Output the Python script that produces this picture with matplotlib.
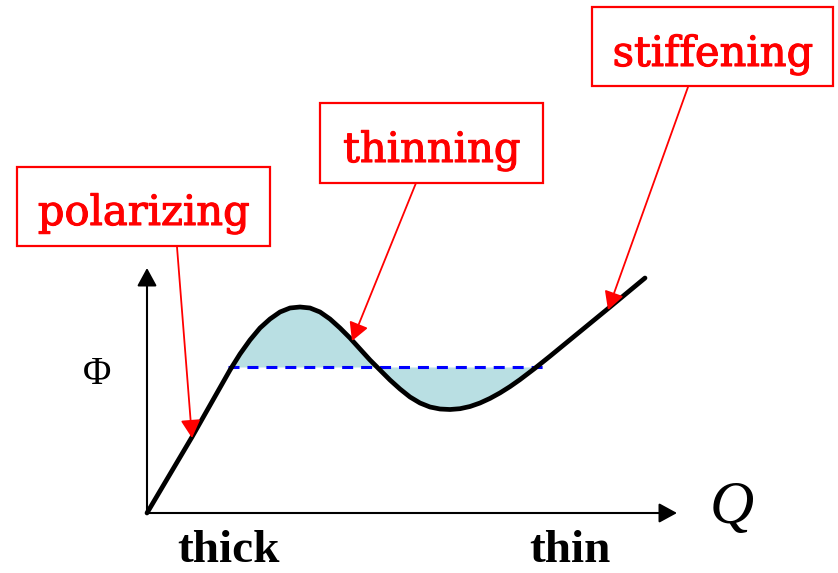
#!/usr/bin/env python3
"""Schematic Phi(Q) curve: polarizing, thinning and stiffening regimes."""

import matplotlib
matplotlib.use("Agg")
import matplotlib.pyplot as plt
import matplotlib.patheffects as pe
import numpy as np
from matplotlib.patches import Rectangle

# curve (Q to the right, Phi upward, origin at axes corner)
curve_q = np.array([0, 45, 83, 93, 103, 113, 123, 133, 143, 153, 163, 173, 183,
                    193, 203, 213, 223, 233, 243, 253, 263, 273, 283, 293, 303,
                    313, 323, 333, 343, 353, 363, 373, 388, 403, 433, 463, 498])
curve_phi = np.array([0, 76, 143, 159, 173, 185, 194, 201, 205, 206, 205, 201, 194,
                      185, 175, 164, 153, 143, 133, 124, 116, 110, 106, 104, 103.5,
                      104.3, 106.5, 110, 114.6, 120.1, 126.4, 133.4, 144.8, 156.8,
                      181.4, 206, 235])

level_phi = 146
level_q = [81, 396]

labels = ["polarizing", "thinning", "stiffening"]
label_baselines = [(-3, 288), (285, 351), (566, 447)]
label_boxes = [(-130, 267, 253, 79), (173, 330, 223, 80), (445, 427, 241, 79)]
arrow_starts = [(30, 266), (269, 330), (541, 426)]
arrow_tips = [(45, 75), (205, 172), (461, 203)]

axis_label_x = ["thick", "thin"]
axis_label_x_pos = [81, 423]

RED = "#ff0000"

fig = plt.figure(figsize=(8.38, 5.73), dpi=100)
ax = fig.add_axes([0, 0, 1, 1])
ax.set_xlim(-147, 691)
ax.set_ylim(-60, 513)
ax.axis("off")

# shaded equal-area region and the dashed level
ax.fill_between(curve_q, curve_phi, level_phi,
                where=(curve_q >= 80) & (curve_q <= 392),
                interpolate=True, color="#b9dfe3", lw=0, zorder=1)
ax.plot(level_q, [level_phi, level_phi], color="#0000ff", lw=2.2,
        ls=(0, (3.6, 2.6)), zorder=2)
ax.plot(curve_q, curve_phi, color="black", lw=3.4, solid_capstyle="round",
        solid_joinstyle="round", zorder=3)

# axes arrows
axis_arrow = dict(arrowstyle="-|>,head_length=0.55,head_width=0.3",
                  color="black", lw=1.5, shrinkA=0, shrinkB=0, mutation_scale=20)
ax.annotate("", xy=(0, 245), xytext=(0, 0), arrowprops=axis_arrow)
ax.annotate("", xy=(530, 0), xytext=(0, 0), arrowprops=axis_arrow)

ax.text(-50, 138, "Φ", fontsize=28, family="Liberation Serif",
        ha="center", va="center")
ax.text(585, 5, "Q", fontsize=44, family="Liberation Serif", style="italic",
        ha="center", va="center")
for name, q in zip(axis_label_x, axis_label_x_pos):
    ax.text(q, -49, name, fontsize=34, family="Liberation Serif",
            fontweight="bold", ha="center", va="baseline")

# red callouts
red_arrow = dict(arrowstyle="-|>,head_length=0.55,head_width=0.3",
                 color=RED, lw=1.3, shrinkA=0, shrinkB=0, mutation_scale=20)
heavier = [pe.withStroke(linewidth=0.8, foreground=RED)]
for name, (cx, cy), (bx, by, bw, bh), start, tip in zip(
        labels, label_baselines, label_boxes, arrow_starts, arrow_tips):
    ax.add_patch(Rectangle((bx, by), bw, bh, fill=False, edgecolor=RED,
                           lw=1.6, zorder=4))
    ax.text(cx, cy, name, fontsize=30, family="DejaVu Serif", color=RED,
            ha="center", va="baseline", path_effects=heavier, zorder=5)
    ax.annotate("", xy=tip, xytext=start, arrowprops=red_arrow, zorder=4)

fig.savefig("out.png", dpi=100)
